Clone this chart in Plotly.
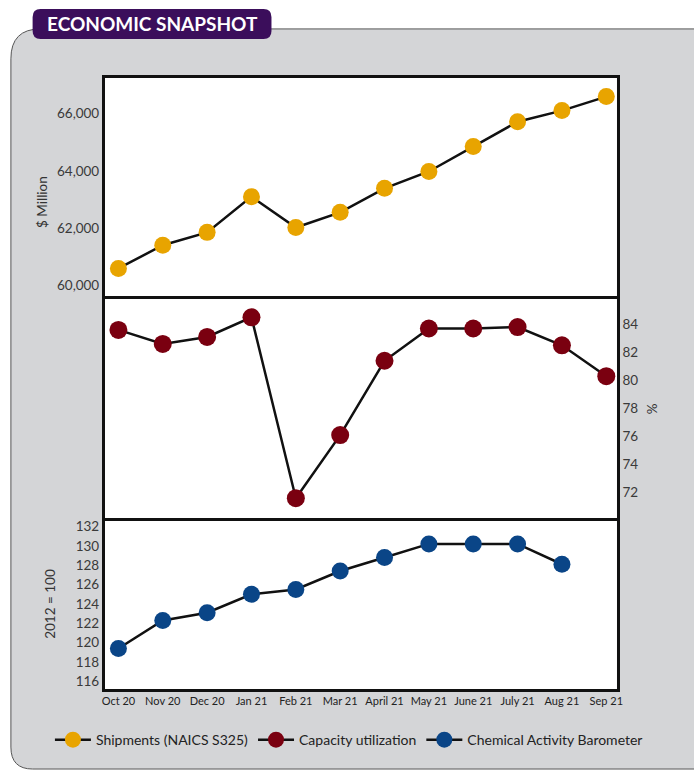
import plotly.graph_objects as go

months = ["Oct 20", "Nov 20", "Dec 20", "Jan 21", "Feb 21", "Mar 21", "April 21",
          "May 21", "June 21", "July 21", "Aug 21", "Sep 21"]
shipments = [60590, 61400, 61850, 63100, 62020, 62550, 63390, 63980, 64850, 65720, 66110, 66600]
capacity = [83.6, 82.6, 83.1, 84.5, 71.6, 76.1, 81.4, 83.7, 83.7, 83.8, 82.5, 80.3]
cab = [119.4, 122.3, 123.1, 125.0, 125.5, 127.4, 128.8, 130.2, 130.2, 130.2, 128.1, None]

ship_ticks = [60000, 62000, 64000, 66000]
ship_ticklabels = ["60,000", "62,000", "64,000", "66,000"]
cap_ticks = [72, 74, 76, 78, 80, 82, 84]
cab_ticks = [116, 118, 120, 122, 124, 126, 128, 130, 132]

W, H = 694, 776
def px(x): return x / W
def py(y): return 1 - y / H

FONT = "Lato"
xs = list(range(len(months)))

fig = go.Figure()
fig.add_trace(go.Scatter(x=xs, y=shipments, mode="lines+markers", name="Shipments (NAICS S325)",
                         line=dict(color="#111111", width=2.5),
                         marker=dict(color="#e8a400", size=17),
                         xaxis="x", yaxis="y"))
fig.add_trace(go.Scatter(x=xs, y=capacity, mode="lines+markers", name="Capacity utilization",
                         line=dict(color="#111111", width=2.5),
                         marker=dict(color="#7a0010", size=18),
                         xaxis="x2", yaxis="y2"))
fig.add_trace(go.Scatter(x=xs, y=cab, mode="lines+markers", name="Chemical Activity Barometer",
                         line=dict(color="#111111", width=2.5),
                         marker=dict(color="#0a4587", size=17),
                         xaxis="x3", yaxis="y3"))

xdom = [px(103), px(622)]
xr = [-0.31, 11.24]
axcommon = dict(showgrid=False, zeroline=False, linecolor="#111111",
                linewidth=2.5, mirror=True, ticks="")
tickfont = dict(family=FONT, size=13.5, color="#3a3a3a")

fig.update_layout(
    width=W, height=H, margin=dict(l=0, r=0, t=0, b=0),
    paper_bgcolor="white", plot_bgcolor="white",
    font=dict(family=FONT, color="#222222"),
    showlegend=True,
    legend=dict(orientation="h", x=0.505, xanchor="center", y=py(740), yanchor="middle",
                itemwidth=36,
                font=dict(family=FONT, size=14, color="#222222"), bgcolor="rgba(0,0,0,0)"),
    xaxis=dict(domain=xdom, range=xr, anchor="y", showticklabels=False, showline=True, **axcommon),
    yaxis=dict(domain=[py(295), py(76)], range=[59616, 67257], anchor="x", showline=True,
               tickvals=ship_ticks, ticktext=ship_ticklabels, tickfont=tickfont, **axcommon),
    xaxis2=dict(domain=xdom, range=xr, anchor="y2", showticklabels=False, showline=False, **axcommon),
    yaxis2=dict(domain=[py(520), py(295)], range=[70, 86], anchor="x2", side="right", showline=True,
                tickvals=cap_ticks, tickfont=tickfont, **axcommon),
    xaxis3=dict(domain=xdom, range=xr, anchor="y3", tickvals=xs, ticktext=months, showline=True,
                tickfont=dict(family=FONT, size=11, color="#222222"), **axcommon),
    yaxis3=dict(domain=[py(689), py(520)], range=[115.2, 132.6], anchor="x3", showline=True,
                tickvals=cab_ticks, tickfont=tickfont, **axcommon),
)

# background panel
L, T, R, B, r = 8, 27, 710, 769, 30
rb = 22
path = (f"M {px(L + r)},{py(T)} L {px(R)},{py(T)} L {px(R)},{py(B)} "
        f"L {px(L + rb)},{py(B)} Q {px(L)},{py(B)} {px(L)},{py(B - rb)} "
        f"L {px(L)},{py(T + r)} Q {px(L)},{py(T)} {px(L + r)},{py(T)} Z")
fig.add_shape(type="path", path=path, xref="paper", yref="paper", layer="below",
              fillcolor="#d4d5d7", line=dict(color="#555555", width=1))
# white plot area
fig.add_shape(type="rect", x0=px(103), x1=px(622), y0=py(689), y1=py(76),
              xref="paper", yref="paper", layer="below",
              fillcolor="white", line=dict(width=0))

# title badge
bl, bt, br, bb, brd = 30, 7, 272, 37, 8
bpath = (f"M {px(bl + brd)},{py(bt)} L {px(br - brd)},{py(bt)} Q {px(br)},{py(bt)} {px(br)},{py(bt + brd)} "
         f"L {px(br)},{py(bb - brd)} Q {px(br)},{py(bb)} {px(br - brd)},{py(bb)} "
         f"L {px(bl + brd)},{py(bb)} Q {px(bl)},{py(bb)} {px(bl)},{py(bb - brd)} "
         f"L {px(bl)},{py(bt + brd)} Q {px(bl)},{py(bt)} {px(bl + brd)},{py(bt)} Z")
fig.add_shape(type="path", path=bpath, xref="paper", yref="paper", layer="above",
              fillcolor="#3b0e5b", line=dict(width=0))

def ann(x, y, text, size, color, angle=0):
    fig.add_annotation(x=px(x), y=py(y), xref="paper", yref="paper", showarrow=False,
                       xanchor="center", yanchor="middle", text=text, textangle=angle,
                       font=dict(family=FONT, size=size, color=color))

ann(151, 22, "<b>ECONOMIC SNAPSHOT</b>", 19, "white")
ann(40, 200, "$ Million", 13.5, "#333333", -90)
ann(658, 408, "%", 13.5, "#333333", 90)
ann(48, 603, "2012 = 100", 13.5, "#333333", -90)

fig.write_html("out.html")
